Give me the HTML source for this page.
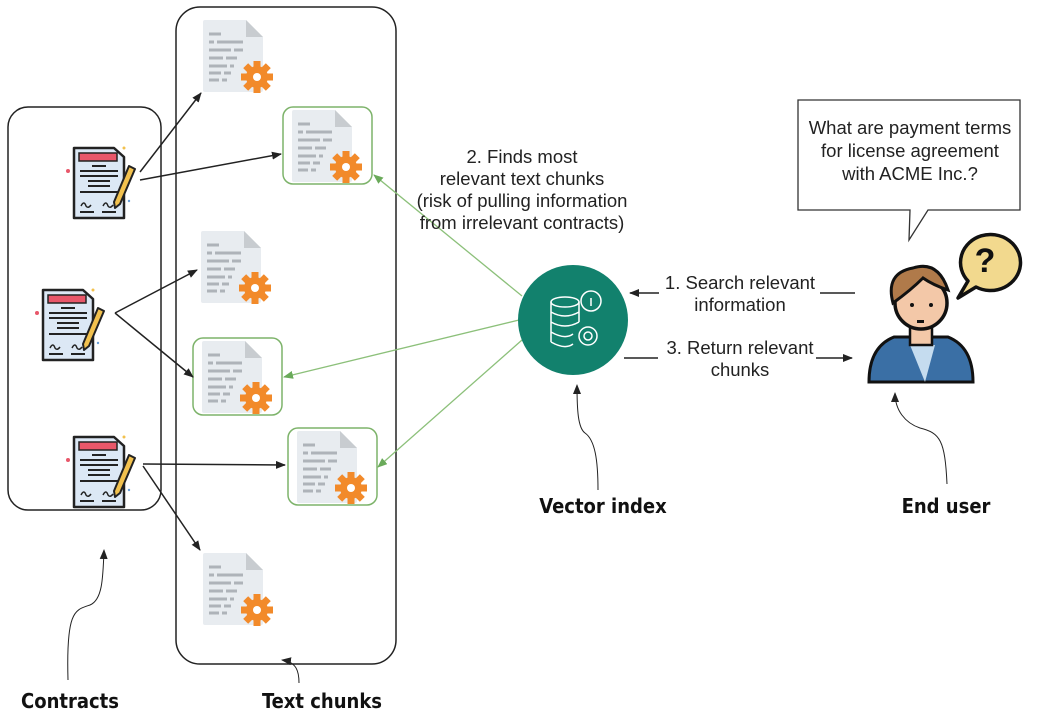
<!DOCTYPE html>
<html><head><meta charset="utf-8"><style>
html,body{margin:0;padding:0;background:#fff;}
svg{display:block;}
.t{font-family:"Liberation Sans",sans-serif;font-size:18.5px;fill:#222;}
.b{font-family:"DejaVu Sans Condensed","DejaVu Sans","Liberation Sans",sans-serif;font-weight:bold;font-size:20px;fill:#111;}
</style></head><body>
<svg width="1042" height="719" viewBox="0 0 1042 719" xmlns="http://www.w3.org/2000/svg">
<defs>
<marker id="ak" markerWidth="10" markerHeight="8" refX="9" refY="4" orient="auto" markerUnits="userSpaceOnUse"><path d="M0,0 L10,4 L0,8 z" fill="#222"/></marker>
<marker id="ag" markerWidth="10" markerHeight="8" refX="9" refY="4" orient="auto" markerUnits="userSpaceOnUse"><path d="M0,0 L10,4 L0,8 z" fill="#6aaa5a"/></marker>
<g id="gear"><circle r="11" fill="#f28a2a"/><g fill="#f28a2a">
<rect x="-3.5" y="-16" width="7" height="32"/><rect x="-16" y="-3.5" width="32" height="7"/>
<rect x="-3.5" y="-16" width="7" height="32" transform="rotate(45)"/><rect x="-3.5" y="-16" width="7" height="32" transform="rotate(-45)"/></g>
<circle r="4" fill="#fff"/></g>
<g id="doc"><path d="M0,2 a2,2 0 0 1 2,-2 H43 L60,17 V70 a2,2 0 0 1 -2,2 H2 a2,2 0 0 1 -2,-2z" fill="#e8ecf0"/>
<path d="M43,0 L60,17 H43z" fill="#c8ccd0"/>
<g stroke="#aeb3b9" stroke-width="3"><line x1="6" y1="14" x2="18" y2="14"/><line x1="6" y1="22" x2="11" y2="22"/><line x1="14" y1="22" x2="40" y2="22"/><line x1="6" y1="30" x2="28" y2="30"/><line x1="31" y1="30" x2="40" y2="30"/><line x1="6" y1="38" x2="20" y2="38"/><line x1="23" y1="38" x2="34" y2="38"/><line x1="6" y1="46" x2="24" y2="46"/><line x1="27" y1="46" x2="31" y2="46"/><line x1="6" y1="53" x2="18" y2="53"/><line x1="21" y1="53" x2="28" y2="53"/><line x1="6" y1="60" x2="16" y2="60"/><line x1="19" y1="60" x2="24" y2="60"/></g>
<use href="#gear" x="54" y="57"/></g>
<g id="con"><path d="M0,2 H40 L50,11 V72 H0z" fill="#dce8f5" stroke="#222" stroke-width="2.5" stroke-linejoin="round"/>
<rect x="5" y="7" width="38" height="8" fill="#e8576a" stroke="#222" stroke-width="1.5"/>
<g stroke="#222" stroke-width="2"><line x1="18" y1="20" x2="32" y2="20"/><line x1="6" y1="25" x2="44" y2="25"/><line x1="6" y1="30" x2="44" y2="30"/><line x1="14" y1="35" x2="36" y2="35"/><line x1="14" y1="40" x2="36" y2="40"/><line x1="6" y1="46" x2="44" y2="46"/><line x1="6" y1="66" x2="20" y2="66"/><line x1="28" y1="66" x2="42" y2="66"/></g>
<path d="M7,60 q3,-6 5,0 q2,3 5,-1 M29,60 q3,-6 5,0 q2,3 5,-1" stroke="#222" fill="none" stroke-width="1.5"/>
<path d="M55,20 L61,23 L46,58 L41,62 L40,56z" fill="#f2c14e" stroke="#222" stroke-width="2" stroke-linejoin="round"/>
<circle cx="-6" cy="25" r="2" fill="#e8576a"/><circle cx="50" cy="2" r="1.5" fill="#f2c14e"/><circle cx="55" cy="55" r="1.2" fill="#6aa0d8"/></g>
</defs>

<rect x="8" y="107" width="153" height="403" rx="20" fill="none" stroke="#222" stroke-width="1.5"/>
<rect x="176" y="7" width="220" height="657" rx="24" fill="none" stroke="#222" stroke-width="1.5"/>

<use href="#doc" x="203" y="20"/>
<rect x="283" y="107" width="89" height="77" rx="10" fill="#fff" stroke="#7db36a" stroke-width="1.5"/>
<use href="#doc" x="292" y="110"/>
<use href="#doc" x="201" y="231"/>
<rect x="193" y="338" width="89" height="77" rx="10" fill="#fff" stroke="#7db36a" stroke-width="1.5"/>
<use href="#doc" x="202" y="341"/>
<rect x="288" y="428" width="89" height="77" rx="10" fill="#fff" stroke="#7db36a" stroke-width="1.5"/>
<use href="#doc" x="297" y="431"/>
<use href="#doc" x="203" y="553"/>

<use href="#con" x="74" y="146"/>
<use href="#con" x="43" y="288"/>
<use href="#con" x="74" y="435"/>

<g stroke="#222" stroke-width="1.5" fill="none" marker-end="url(#ak)">
<line x1="140" y1="172" x2="201" y2="93"/>
<line x1="140" y1="180" x2="281" y2="154"/>
<line x1="115" y1="313" x2="197" y2="270"/>
<line x1="115" y1="313" x2="193" y2="377"/>
<line x1="143" y1="464" x2="285" y2="465"/>
<line x1="143" y1="466" x2="200" y2="550"/>
</g>
<g stroke="#8cc07a" stroke-width="1.3" fill="none" marker-end="url(#ag)">
<line x1="522" y1="296" x2="374" y2="175"/>
<line x1="519" y1="320" x2="284" y2="377"/>
<line x1="522" y1="340" x2="378" y2="467"/>
</g>

<circle cx="573" cy="320" r="55" fill="#12816d"/>
<g stroke="#fff" stroke-width="1.5" fill="none">
<ellipse cx="565" cy="302" rx="14" ry="5"/>
<path d="M551,302 V342 M579,302 V322 M551,312 q14,8 28,0 M551,322 q14,8 28,0 M551,332 q14,8 22,2 M551,342 q14,8 22,2"/>
<circle cx="591" cy="301" r="10"/><line x1="591" y1="298" x2="591" y2="306"/>
<circle cx="588" cy="336" r="9"/><circle cx="588" cy="336" r="4"/>
</g>

<g class="t" text-anchor="middle">
<text x="522" y="163">2. Finds most</text>
<text x="522" y="185">relevant text chunks</text>
<text x="522" y="207">(risk of pulling information</text>
<text x="522" y="229">from irrelevant contracts)</text>
<text x="740" y="289">1. Search relevant</text>
<text x="740" y="311">information</text>
<text x="740" y="354">3. Return relevant</text>
<text x="740" y="376">chunks</text>
</g>
<g stroke="#222" stroke-width="1.5">
<line x1="820" y1="293" x2="855" y2="293"/>
<line x1="659" y1="293" x2="630" y2="293" marker-end="url(#ak)"/>
<line x1="624" y1="358" x2="658" y2="358"/>
<line x1="816" y1="358" x2="852" y2="358" marker-end="url(#ak)"/>
</g>

<path d="M798,100 H1020 V210 H928 L909,240 L910,210 H798z" fill="#fff" stroke="#333" stroke-width="1.3"/>
<g class="t" text-anchor="middle"><text x="910" y="134">What are payment terms</text><text x="910" y="157">for license agreement</text><text x="910" y="180">with ACME Inc.?</text></g>

<path d="M968,281 a30,28 0 1 1 8,6 L958,298z" fill="#f2d98e" stroke="#111" stroke-width="3.5" stroke-linejoin="round"/>
<text x="985" y="272" text-anchor="middle" font-family="Liberation Sans,sans-serif" font-weight="bold" font-size="34" fill="#111">?</text>
<path d="M869,382 q0,-35 25,-45 L948,337 q25,10 25,45z" fill="#3a6fa5" stroke="#111" stroke-width="3"/>
<path d="M910,345 L925,382 L935,345z" fill="#c5dcef"/>
<rect x="910" y="325" width="22" height="20" fill="#f3c8a8" stroke="#111" stroke-width="2.5"/>
<circle cx="921" cy="303" r="26" fill="#f3c8a8" stroke="#111" stroke-width="3.5"/>
<path d="M893,303 q-8,-30 20,-35 q25,-8 35,22 q-15,-5 -25,-12 q-12,12 -30,25z" fill="#b07a4a" stroke="#111" stroke-width="3"/>
<g fill="#111"><circle cx="912" cy="305" r="2"/><circle cx="931" cy="305" r="2"/><rect x="917" y="320" width="7" height="3"/></g>

<g stroke="#222" stroke-width="1" fill="none">
<path d="M68,680 C66,610 75,610 90,605 C102,600 103,580 104,550" marker-end="url(#ak)"/>
<path d="M299,683 C299,672 297,662 282,660" marker-end="url(#ak)"/>
<path d="M598,490 C598,460 595,440 585,433 C578,428 577,410 577,385" marker-end="url(#ak)"/>
<path d="M947,484 C945,440 940,433 920,428 C905,423 895,410 895,393" marker-end="url(#ak)"/>
</g>

<g class="b" text-anchor="middle">
<text x="70" y="708">Contracts</text>
<text x="322" y="708">Text chunks</text>
<text x="603" y="513">Vector index</text>
<text x="946" y="513">End user</text>
</g>
</svg>
</body></html>
